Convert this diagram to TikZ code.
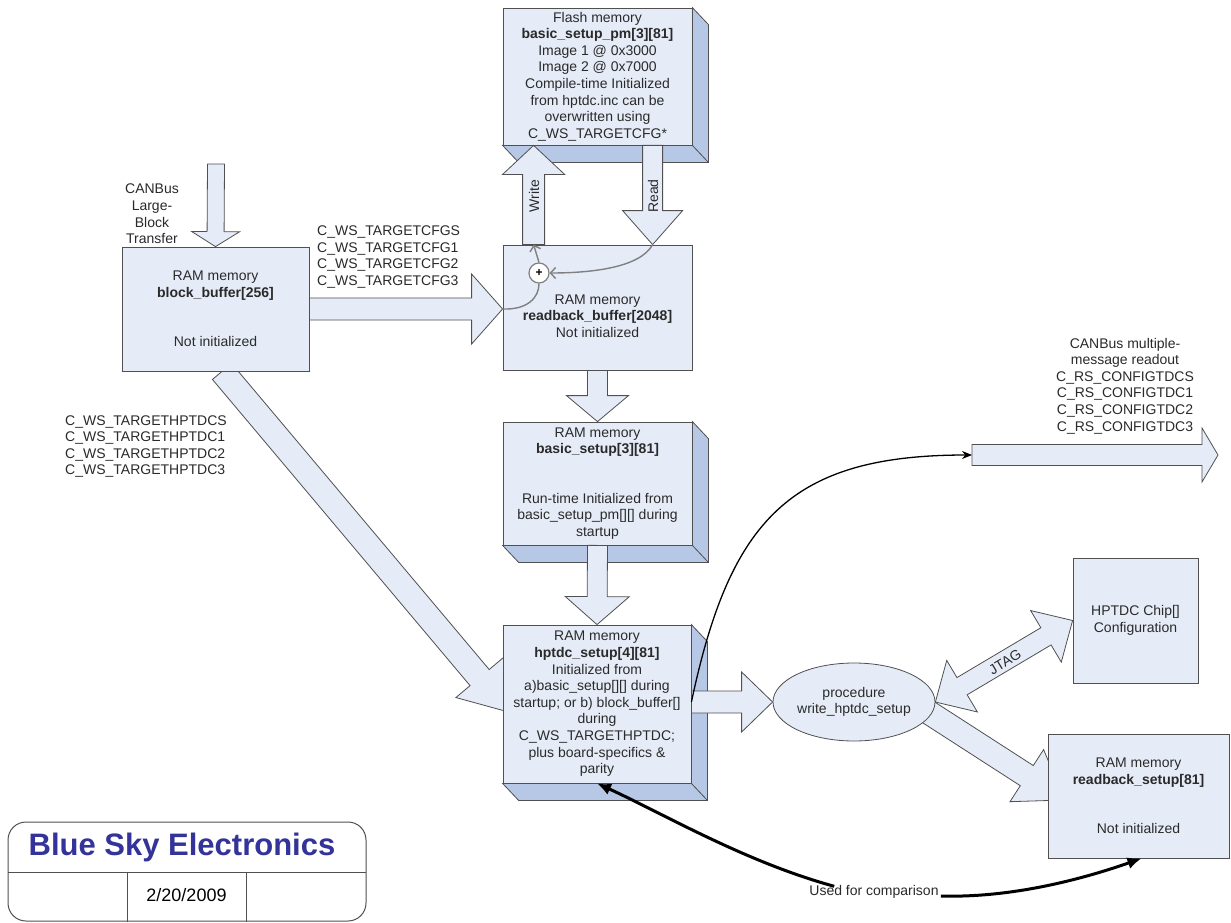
\documentclass[tikz,border=0pt]{standalone}
\usepackage{fontspec}
\setmainfont{Liberation Sans}
\usetikzlibrary{calc,arrows.meta,shapes.geometric,backgrounds}
\definecolor{face}{HTML}{E6ECF7}
\definecolor{side}{HTML}{B6C8E6}
\definecolor{edgec}{HTML}{505050}
\definecolor{txtc}{HTML}{2A2A2A}
\definecolor{bsblue}{HTML}{333399}
\definecolor{curvegray}{HTML}{808080}
% block arrow: start, tip, shaft half width, head half width, head length
\newcommand{\blockarr}[5]{%
  \coordinate (bh) at ($(#2)!#5!(#1)$);
  \draw[barr] ($(#1)!#3!90:(#2)$) -- ($(bh)!#3!90:(#2)$) -- ($(bh)!#4!90:(#2)$) -- (#2)
    -- ($(bh)!#4!-90:(#2)$) -- ($(bh)!#3!-90:(#2)$) -- ($(#1)!#3!-90:(#2)$) -- cycle;}
% double block arrow: tip A, tip B, shaft half width, head half width, head length
\newcommand{\dblarr}[5]{%
  \coordinate (bha) at ($(#1)!#5!(#2)$);
  \coordinate (bhb) at ($(#2)!#5!(#1)$);
  \draw[barr] (#1) -- ($(bha)!#4!90:(#2)$) -- ($(bha)!#3!90:(#2)$) -- ($(bhb)!#3!90:(#2)$)
    -- ($(bhb)!#4!90:(#2)$) -- (#2) -- ($(bhb)!#4!-90:(#2)$) -- ($(bhb)!#3!-90:(#2)$)
    -- ($(bha)!#3!-90:(#2)$) -- ($(bha)!#4!-90:(#2)$) -- cycle;}
% 3D depth of a box
\newcommand{\boxdepth}[1]{%
  \draw[sideface] (#1.north east) -- ++(16,17) -- ($(#1.south east)+(16,17)$)
    -- ($(#1.south west)+(16,17)$) -- (#1.south west) -- (#1.south east) -- cycle;
  \draw[draw=edgec,line width=0.8pt] (#1.south east) -- ++(16,17);}
\begin{document}
\begin{tikzpicture}[x=1pt,y=-1pt,
  box/.style={draw=edgec,fill=face,line width=0.8pt,inner sep=0pt,
    font=\fontsize{14}{16.6}\selectfont,text=txtc,align=center},
  txt/.style={font=\fontsize{14}{16.6}\selectfont,text=txtc,align=center,inner sep=0pt},
  barr/.style={draw=edgec,fill=face,line width=0.8pt,line join=miter},
  sideface/.style={draw=edgec,fill=side,line width=0.8pt},
  gcurve/.style={draw=curvegray,line width=1.4pt},
  gtip/.style={-{Straight Barb[length=5pt,width=11pt,line width=1.4pt]}},
  bcurve/.style={draw=black,line width=1.3pt,-{Stealth[length=10pt,width=8pt]}},
  ccurve/.style={draw=black,line width=3pt,-{Latex[length=14pt,width=12pt]}},
  logoline/.style={draw=edgec,line width=1pt}]
\useasboundingbox (0,0) rectangle (1231,923);

% boxes
\node[box,minimum width=189pt,minimum height=137pt] (fl) at (597.5,76.5)
  {Flash memory\\\textbf{basic\_setup\_pm[3][81]}\\Image 1 @ 0x3000\\Image 2 @ 0x7000\\Compile-time Initialized\\from hptdc.inc can be\\overwritten using\\C\_WS\_TARGETCFG*};
\node[box,minimum width=189pt,minimum height=125pt] (rb) at (597.5,307.5) {};
\node[box,minimum width=187pt,minimum height=124pt] (bb) at (215.5,309)
  {RAM memory\\\textbf{block\_buffer[256]}\\[33pt]Not initialized};
\node[box,minimum width=189pt,minimum height=123pt] (bs) at (597.5,483.5)
  {RAM memory\\\textbf{basic\_setup[3][81]}\\[33pt]Run-time Initialized from\\basic\_setup\_pm[][] during\\startup};
\node[box,minimum width=188pt,minimum height=158pt] (hs) at (597,704)
  {RAM memory\\\textbf{hptdc\_setup[4][81]}\\Initialized from\\a)basic\_setup[][] during\\startup; or b) block\_buffer[]\\during\\C\_WS\_TARGETHPTDC;\\plus board-specifics \&\\parity};
\node[box,minimum width=125pt,minimum height=125pt] (hc) at (1135.5,620.5)
  {HPTDC Chip[]\\Configuration};
\node[box,minimum width=181pt,minimum height=124pt] (rs) at (1138.5,796)
  {RAM memory\\\textbf{readback\_setup[81]}\\[33pt]Not initialized};
\node[box,ellipse,minimum width=162pt,minimum height=78pt] (pr) at (854,702)
  {procedure\\write\_hptdc\_setup};

\node[txt] (rbt) at ($(rb.center)+(0,8.5)$)
  {RAM memory\\\textbf{readback\_buffer[2048]}\\Not initialized};

% arrow end points
\coordinate (canIn) at (216,164);
\coordinate (wS) at ($(rb.north west)+(31,0)$);
\coordinate (wT) at ($(fl.south west)+(31,0)$);
\coordinate (rS) at ($(fl.south west)+(150,0)$);
\coordinate (rT) at ($(rb.north west)+(150,0)$);
\coordinate (hT) at ($(rb.west)+(0,1.5)$);
\coordinate (dS) at ($(bb.south)+(6.5,0)$);
\coordinate (dT) at ($(hs.west)+(6,8)$);
\coordinate (hsR) at ($(hs.east)+(0,-2)$);
\coordinate (eS) at ($(pr.center)+(71,8)$);
\coordinate (eT) at ($(rs.west)+(17,4)$);
\coordinate (canS) at (972,455);
\coordinate (canT) at (1218,455);

\begin{scope}[on background layer]
  \fill[white] (0,0) rectangle (1231,923);
  \boxdepth{fl}
  \boxdepth{bs}
  \boxdepth{hs}
  \blockarr{dS}{dT}{12.5pt}{31pt}{45pt}
  \blockarr{eS}{eT}{12pt}{31pt}{45pt}
\end{scope}

% block arrows
\blockarr{canIn}{bb.north}{8.5pt}{24pt}{15pt}
\blockarr{bb.east}{hT}{11pt}{35pt}{31pt}
\blockarr{wS}{wT}{11pt}{31pt}{29pt}
\blockarr{rS}{rT}{10pt}{30pt}{34pt}
\blockarr{rb.south}{bs.north}{10pt}{31pt}{26pt}
\blockarr{bs.south}{hs.north}{10pt}{32pt}{28pt}
\blockarr{hsR}{pr.west}{11pt}{30pt}{31pt}
\dblarr{pr.east}{hc.west}{10pt}{30pt}{31pt}
\blockarr{canS}{canT}{10.5pt}{27pt}{16pt}

\node[txt,rotate=90] (wr) at (534,196) {Write};
\node[txt,rotate=90] (rd) at (653,196) {Read};
\node[txt,rotate=31] (jt) at (1005,662) {JTAG};

% merge inside readback buffer
\node[circle,draw=curvegray,fill=white,line width=1.2pt,minimum size=20pt,inner sep=0pt,
  font=\bfseries\fontsize{12}{12}\selectfont] (plus) at (539,273) {+};
\draw[gcurve,gtip] (rT) .. controls (640,268) and (590,273) .. (plus.east);
\draw[gcurve] (hT) .. controls (527,310) and (539,298) .. (plus.south);
\draw[gcurve,gtip] (plus.north) -- (wS);

% labels
\node[txt,anchor=west,align=left] (cfgl) at (317,257)
  {C\_WS\_TARGETCFGS\\C\_WS\_TARGETCFG1\\C\_WS\_TARGETCFG2\\C\_WS\_TARGETCFG3};
\node[txt,anchor=west,align=left] (hpl) at (65,446.5)
  {C\_WS\_TARGETHPTDCS\\C\_WS\_TARGETHPTDC1\\C\_WS\_TARGETHPTDC2\\C\_WS\_TARGETHPTDC3};
\node[txt] (canl) at (152,214) {CANBus\\Large-\\Block\\Transfer};
\node[txt] (rdl) at (1125,386)
  {CANBus multiple-\\message readout\\C\_RS\_CONFIGTDCS\\C\_RS\_CONFIGTDC1\\C\_RS\_CONFIGTDC2\\C\_RS\_CONFIGTDC3};

% readout curve
\draw[bcurve] (hsR) .. controls (730,520) and (790,455) .. (canS);

% used for comparison
\node[txt] (used) at (874,892) {Used for comparison};
\coordinate (uL) at ($(used.north west)+(25,1)$);
\coordinate (uR) at ($(used.east)+(2,4)$);
\draw[ccurve] (uL) .. controls (745,862) and (660,812) .. (hs.south);
\draw[ccurve] (uR) .. controls (1010,898) and (1080,880) .. ($(rs.south)+(3,0)$);

% logo
\node[draw=edgec,line width=1pt,rounded corners=18pt,minimum width=358pt,minimum height=99pt,inner sep=0pt] (logo) at (187,871.5) {};
\coordinate (lgA) at (8,872);
\coordinate (lgB) at (366,872);
\coordinate (lgC) at (127,872);
\coordinate (lgD) at (246,872);
\draw[logoline] (lgA) -- (lgB);
\draw[logoline] (lgC) -- (lgC |- logo.south);
\draw[logoline] (lgD) -- (lgD |- logo.south);
\node[font=\bfseries\fontsize{31}{32}\selectfont,text=bsblue,inner sep=0pt] (bse) at (182,847) {Blue Sky Electronics};
\node[font=\fontsize{18}{20}\selectfont,text=black,inner sep=0pt] (date) at (186.5,895) {2/20/2009};
\end{tikzpicture}
\end{document}
